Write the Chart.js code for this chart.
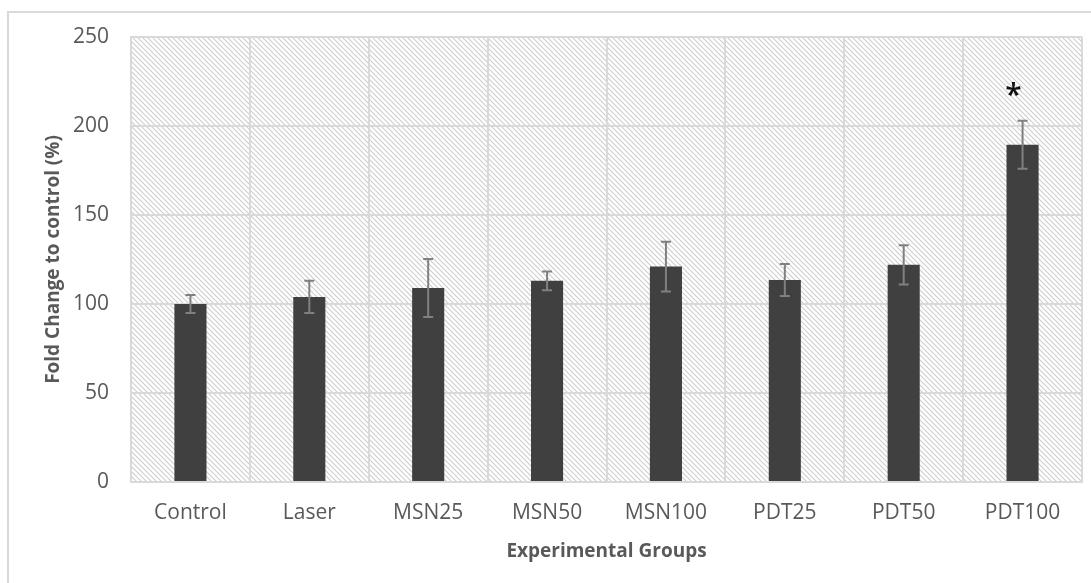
<!DOCTYPE html>
<html>
<head>
<meta charset="utf-8">
<script src="https://cdn.jsdelivr.net/npm/chart.js@4.4.1/dist/chart.umd.min.js"></script>
<style>
  html, body { margin: 0; padding: 0; background: #ffffff; }
  #wrap { position: relative; width: 1091px; height: 583px; }
</style>
</head>
<body>
<div id="wrap"><canvas id="c" width="1091" height="583"></canvas></div>
<script>
// Experimental groups and measured fold change (%) with error bars
const groups = ['Control', 'Laser', 'MSN25', 'MSN50', 'MSN100', 'PDT25', 'PDT50', 'PDT100'];
const foldChange = [100, 104, 109, 113, 121, 113.5, 122, 189.5];
const errors = [5, 9, 16.3, 5.3, 14, 9, 11, 13.5];
const significance = ['', '', '', '', '', '', '', '*'];
const yTicks = [0, 50, 100, 150, 200, 250];

const FONT = '"Open Sans", "Noto Sans", sans-serif';
const TEXT = '#595959';
const GRID = '#d9d9d9';

// diagonal hatch used as plot-area fill
function makeHatch() {
  const s = 5;
  const p = document.createElement('canvas');
  p.width = s; p.height = s;
  const g = p.getContext('2d');
  g.fillStyle = '#ffffff';
  g.fillRect(0, 0, s, s);
  g.strokeStyle = '#cdcdcd';
  g.lineWidth = 1.1;
  g.beginPath();
  g.moveTo(-1, -1); g.lineTo(s + 1, s + 1);
  g.moveTo(-1, s - 1); g.lineTo(1, s + 1);
  g.moveTo(s - 1, -1); g.lineTo(s + 1, 1);
  g.stroke();
  return p;
}

const framePlugin = {
  id: 'frame',
  beforeDraw(chart) {
    const { ctx, chartArea: a } = chart;
    ctx.save();
    // outer frame
    ctx.strokeStyle = '#d9d9d9';
    ctx.lineWidth = 2;
    ctx.beginPath();
    ctx.moveTo(8, 583);
    ctx.lineTo(8, 12);
    ctx.lineTo(1091, 12);
    ctx.stroke();
    // hatched plot area
    ctx.fillStyle = ctx.createPattern(makeHatch(), 'repeat');
    ctx.fillRect(a.left, a.top, a.right - a.left, a.bottom - a.top);
    ctx.restore();
  }
};

const errorBarPlugin = {
  id: 'errorBars',
  afterDatasetsDraw(chart) {
    const { ctx, scales: { y } } = chart;
    const meta = chart.getDatasetMeta(0);
    ctx.save();
    ctx.strokeStyle = '#808080';
    ctx.lineWidth = 2;
    meta.data.forEach((bar, i) => {
      const v = foldChange[i], e = errors[i];
      const x = bar.x;
      const yt = y.getPixelForValue(v + e);
      const yb = y.getPixelForValue(v - e);
      ctx.beginPath();
      ctx.moveTo(x, yt); ctx.lineTo(x, yb);
      ctx.moveTo(x - 5, yt); ctx.lineTo(x + 5, yt);
      ctx.moveTo(x - 5, yb); ctx.lineTo(x + 5, yb);
      ctx.stroke();
      if (significance[i]) {
        ctx.fillStyle = '#111111';
        ctx.font = '600 30px ' + FONT;
        ctx.textAlign = 'center';
        ctx.textBaseline = 'middle';
        ctx.fillText(significance[i], x - 9, y.getPixelForValue(v + e) - 24);
      }
    });
    ctx.restore();
  }
};

new Chart(document.getElementById('c'), {
  type: 'bar',
  data: {
    labels: groups,
    datasets: [{
      data: foldChange,
      backgroundColor: '#404040',
      borderWidth: 0,
      categoryPercentage: 1,
      barPercentage: 0.27
    }]
  },
  options: {
    responsive: false,
    animation: false,
    devicePixelRatio: 1,
    layout: { padding: { left: 38, top: 37, right: 9, bottom: 16 } },
    plugins: { legend: { display: false }, tooltip: { enabled: false } },
    scales: {
      x: {
        grid: { color: GRID, lineWidth: 2, drawTicks: false, offset: true },
        border: { color: GRID, width: 2 },
        ticks: { color: TEXT, font: { family: FONT, size: 21 }, padding: 18 },
        title: { display: true, text: 'Experimental Groups', color: TEXT,
                 font: { family: FONT, size: 19, weight: 'bold' } },
        afterFit(s) { s.height = 583 - 482 - 16; }
      },
      y: {
        min: 0, max: 250,
        afterBuildTicks(s) { s.ticks = yTicks.map(v => ({ value: v })); },
        grid: { color: GRID, lineWidth: 2, drawTicks: false },
        border: { color: GRID, width: 2 },
        ticks: { color: TEXT, font: { family: FONT, size: 21 }, padding: 22 },
        title: { display: true, text: 'Fold Change to control (%)', color: TEXT,
                 font: { family: FONT, size: 19, weight: 'bold' } },
        afterFit(s) { s.width = 131 - 38; }
      }
    }
  },
  plugins: [framePlugin, errorBarPlugin]
});
</script>
</body>
</html>
